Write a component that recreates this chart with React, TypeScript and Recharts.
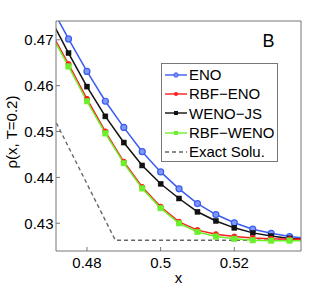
import { Legend, Line, LineChart, XAxis, YAxis } from "recharts";

const xValues = [0.47, 0.475, 0.48, 0.485, 0.49, 0.495, 0.5, 0.505, 0.51, 0.515, 0.52, 0.525, 0.53, 0.535, 0.54];
const eno = [0.4776, 0.4702, 0.4631, 0.4566, 0.4509, 0.4456, 0.4412, 0.4375, 0.4343, 0.4319, 0.4301, 0.4287, 0.4278, 0.4271, 0.4267];
const rbfEno = [0.472, 0.4647, 0.4571, 0.45, 0.4434, 0.4379, 0.4336, 0.4303, 0.4285, 0.4276, 0.4271, 0.4268, 0.4266, 0.4265, 0.4265];
const wenoJs = [0.4748, 0.4671, 0.4598, 0.4533, 0.4476, 0.4426, 0.4386, 0.4354, 0.4325, 0.4305, 0.429, 0.4279, 0.4272, 0.4267, 0.4265];
const rbfWeno = [0.4716, 0.4642, 0.4566, 0.4496, 0.4431, 0.4376, 0.4333, 0.43, 0.4281, 0.4271, 0.4266, 0.4263, 0.4262, 0.4262, 0.4262];
const exactX = [0.47, 0.4877, 0.54];
const exactY = [0.4546, 0.4263, 0.4263];

const xTicks = [0.48, 0.5, 0.52];
const yTicks = [0.43, 0.44, 0.45, 0.46, 0.47];
const xDomain = [0.4716, 0.5381];
const yDomain = [0.42395, 0.4741];

const rows = xValues.map((x, i) => ({
  x,
  eno: eno[i],
  rbfEno: rbfEno[i],
  wenoJs: wenoJs[i],
  rbfWeno: rbfWeno[i],
}));
const exactRows = exactX.map((x, i) => ({ x, exact: exactY[i] }));

const FONT = "'Liberation Sans', Arial, Helvetica, sans-serif";
const AXIS = "#777";
const BLUE = "#3a5cf0";
const RED = "#ff1c1c";
const BLACK = "#111";
const GREEN = "#6cf02c";

const legendItems = [
  { name: "ENO", color: BLUE, marker: "circle" },
  { name: "RBF−ENO", color: RED, marker: "dot" },
  { name: "WENO−JS", color: BLACK, marker: "square" },
  { name: "RBF−WENO", color: GREEN, marker: "square" },
  { name: "Exact Solu.", color: "#666", marker: "dash" },
];

function squareDot(color: string, size: number) {
  return (props: any) => {
    const { cx, cy, index } = props;
    if (cx == null || cy == null) return <g key={index} />;
    return (
      <rect
        key={index}
        x={cx - size / 2}
        y={cy - size / 2}
        width={size}
        height={size}
        fill={color}
        stroke={color}
        strokeWidth={0.5}
      />
    );
  };
}

function LegendBox() {
  return (
    <div
      style={{
        width: 115,
        height: 96,
        border: `1px solid ${AXIS}`,
        background: "#fff",
        fontFamily: FONT,
        fontSize: 15,
        color: "#000",
        paddingTop: 1,
        boxSizing: "content-box",
      }}
    >
      {legendItems.map((item) => (
        <div key={item.name} style={{ display: "flex", alignItems: "center", height: 19.3, lineHeight: "19px" }}>
          <svg width={26} height={10} style={{ flex: "none", marginLeft: 1 }}>
            {item.marker === "dash" ? (
              <line x1={2} y1={5} x2={24} y2={5} stroke={item.color} strokeWidth={1.3} strokeDasharray="4 3" />
            ) : (
              <line x1={2} y1={5} x2={24} y2={5} stroke={item.color} strokeWidth={1.4} />
            )}
            {item.marker === "circle" && <circle cx={13} cy={5} r={2.2} fill="#7f98f5" stroke={item.color} strokeWidth={1} />}
            {item.marker === "dot" && <circle cx={13} cy={5} r={2} fill={item.color} />}
            {item.marker === "square" && <rect x={11} y={3} width={4} height={4} fill={item.color} />}
          </svg>
          <span style={{ whiteSpace: "nowrap" }}>{item.name}</span>
        </div>
      ))}
    </div>
  );
}

export default function App() {
  const tickStyle = { fill: "#000", fontSize: 15, fontFamily: FONT };
  return (
    <div style={{ position: "absolute", left: 0, top: 0, width: 332, height: 287, background: "#fff" }}>
      <LineChart width={332} height={287} data={rows} margin={{ top: 20, right: 30, bottom: 0, left: 0 }}>
        <XAxis
          xAxisId="main"
          dataKey="x"
          type="number"
          domain={xDomain}
          ticks={xTicks}
          allowDataOverflow
          height={36}
          interval={0}
          stroke={AXIS}
          tickSize={-4}
          tickMargin={10}
          tick={tickStyle}
          label={{ value: "x", position: "insideBottom", offset: 4, fill: "#000", fontSize: 15, fontFamily: FONT }}
        />
        <XAxis
          xAxisId="top"
          orientation="top"
          dataKey="x"
          type="number"
          domain={xDomain}
          ticks={xTicks}
          allowDataOverflow
          height={1}
          interval={0}
          stroke={AXIS}
          tickSize={-4}
          tick={false}
        />
        <YAxis
          yAxisId="main"
          type="number"
          domain={yDomain}
          ticks={yTicks}
          allowDataOverflow
          width={56}
          interval={0}
          stroke={AXIS}
          tickSize={-4}
          tickMargin={6.5}
          tick={tickStyle}
        />
        <YAxis
          yAxisId="right"
          orientation="right"
          type="number"
          domain={yDomain}
          ticks={yTicks}
          allowDataOverflow
          width={1}
          interval={0}
          stroke={AXIS}
          tickSize={-4}
          tick={false}
        />
        <Line
          xAxisId="main"
          yAxisId="main"
          data={exactRows}
          dataKey="exact"
          name="Exact Solu."
          type="linear"
          stroke="#666"
          strokeWidth={1.4}
          strokeDasharray="4 3"
          dot={false}
          isAnimationActive={false}
        />
        <Line
          xAxisId="main"
          yAxisId="main"
          dataKey="eno"
          name="ENO"
          type="linear"
          stroke={BLUE}
          strokeWidth={1.5}
          dot={{ r: 3, fill: "#7f98f5", stroke: BLUE, strokeWidth: 1.2 }}
          isAnimationActive={false}
        />
        <Line
          xAxisId="main"
          yAxisId="main"
          dataKey="wenoJs"
          name="WENO−JS"
          type="linear"
          stroke={BLACK}
          strokeWidth={1.5}
          dot={squareDot(BLACK, 5)}
          isAnimationActive={false}
        />
        <Line
          xAxisId="main"
          yAxisId="main"
          dataKey="rbfEno"
          name="RBF−ENO"
          type="linear"
          stroke={RED}
          strokeWidth={1.5}
          dot={{ r: 2.6, fill: RED, stroke: RED, strokeWidth: 1 }}
          isAnimationActive={false}
        />
        <Line
          xAxisId="main"
          yAxisId="main"
          dataKey="rbfWeno"
          name="RBF−WENO"
          type="linear"
          stroke={GREEN}
          strokeWidth={1.5}
          dot={squareDot(GREEN, 5.5)}
          isAnimationActive={false}
        />
        <Legend
          layout="vertical"
          align="center"
          verticalAlign="middle"
          content={() => <LegendBox />}
          wrapperStyle={{ top: 63, left: 161, width: 117, height: 98 }}
        />
        <text
          x={17}
          y={132}
          transform="rotate(-90 17 132)"
          textAnchor="middle"
          fontSize={15}
          fontFamily={FONT}
          fill="#000"
        >
          ρ(x, T=0.2)
        </text>
        <text x={268.5} y={46.5} textAnchor="middle" fontSize={18} fontFamily={FONT} fill="#000">
          B
        </text>
      </LineChart>
    </div>
  );
}
